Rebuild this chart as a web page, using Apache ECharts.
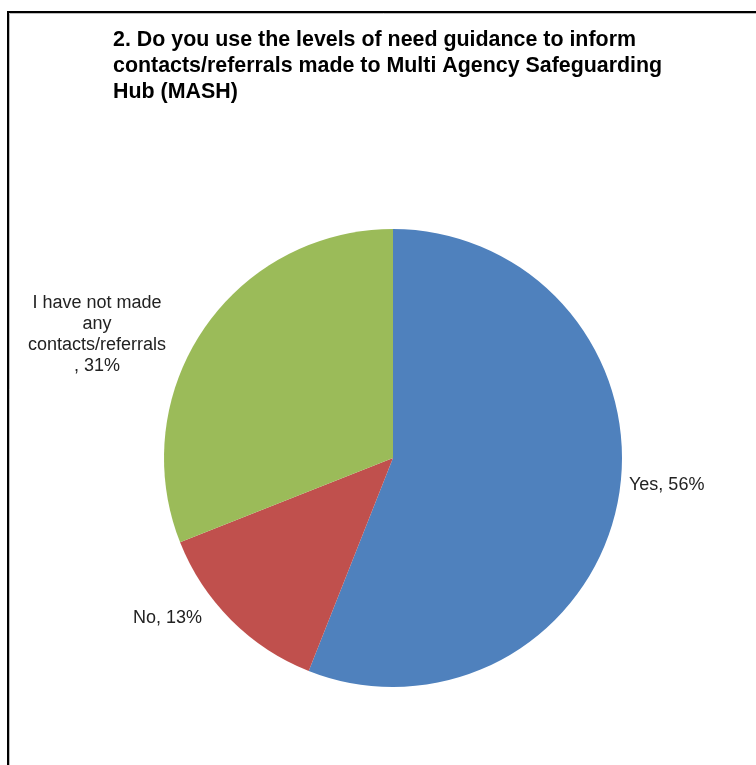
<!DOCTYPE html>
<html>
<head>
<meta charset="utf-8">
<script src="https://cdn.jsdelivr.net/npm/echarts@6/dist/echarts.min.js"></script>
<style>html,body{margin:0;padding:0;background:#fff}#c{width:756px;height:765px}</style>
</head>
<body>
<div id="c"></div>
<script>
const titleText = '2. Do you use the levels of need guidance to inform\ncontacts/referrals made to Multi Agency Safeguarding\nHub (MASH)';
const categories = ['Yes', 'No', 'I have not made any contacts/referrals'];
const labelNames = ['Yes', 'No', 'I have not made\nany\ncontacts/referrals\n'];
const percents = [56, 13, 31];
const colors = ['#4F81BD', '#C0504D', '#9BBB59'];

const chart = echarts.init(document.getElementById('c'), null, {renderer: 'canvas'});
const labelPlace = [
  {x: 629, y: 485, align: 'left'},
  {x: 202, y: 618, align: 'right'},
  {x: 97, y: 335, align: 'center'}
];
chart.setOption({
  backgroundColor: '#fff',
  animation: false,
  title: {
    text: titleText,
    left: 108, top: 22,
    textStyle: {fontFamily: 'Liberation Sans, Arial', fontWeight: 'bold', fontSize: 21.4, lineHeight: 26, color: '#000'}
  },
  graphic: [
    {type: 'rect', shape: {x: 9.5, y: 13.5, width: 800, height: 800}, style: {fill: 'none', stroke: '#bbb', lineWidth: 1}, silent: true},
    {type: 'rect', shape: {x: 8, y: 12, width: 800, height: 800}, style: {fill: 'none', stroke: '#000', lineWidth: 2}, silent: true}
  ],
  series: [{
    type: 'pie',
    center: [393, 458],
    radius: 229,
    startAngle: 90,
    clockwise: true,
    color: colors,
    itemStyle: {borderWidth: 0},
    label: {
      show: true,
      position: 'outside',
      formatter: p => labelNames[p.dataIndex] + ', ' + p.value + '%',
      fontFamily: 'Liberation Sans, Arial',
      fontSize: 18,
      lineHeight: 21,
      color: '#222'
    },
    labelLine: {show: false, length: 8, length2: 0},
    labelLayout: p => ({
      x: labelPlace[p.dataIndex].x,
      y: labelPlace[p.dataIndex].y,
      align: labelPlace[p.dataIndex].align,
      verticalAlign: 'middle'
    }),
    data: categories.map((c, i) => ({name: c, value: percents[i]}))
  }]
});
</script>
</body>
</html>
